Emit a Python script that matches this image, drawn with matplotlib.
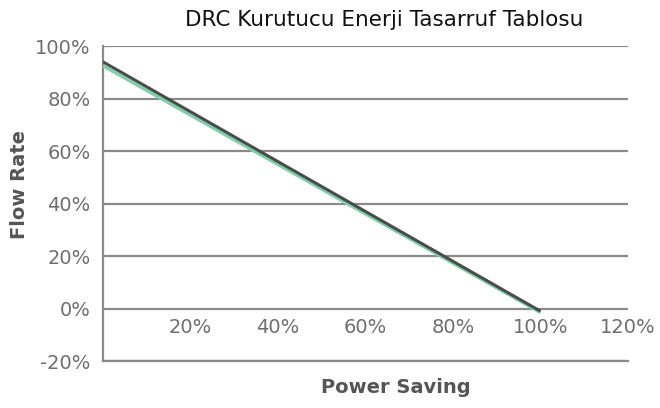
import matplotlib
matplotlib.use("Agg")
import matplotlib.pyplot as plt

# values
power_saving = [0, 100]
flow_dark = [94, -1]
flow_green = [92.5, -1.5]

x_ticks = [20, 40, 60, 80, 100, 120]
x_tick_labels = ["20%", "40%", "60%", "80%", "100%", "120%"]
y_ticks = [-20, 0, 20, 40, 60, 80, 100]
y_tick_labels = ["-20%", "0%", "20%", "40%", "60%", "80%", "100%"]

title = "DRC Kurutucu Enerji Tasarruf Tablosu"
grid_color = "#8a8a8a"
tick_color = "#6e6e6e"
label_color = "#555555"


def main():
    fig = plt.figure(figsize=(6.6, 4.08), dpi=100)
    ax = fig.add_axes([0.156, 0.115, 0.7955, 0.772])

    ax.plot(power_saving, flow_green, color="#7fcfac", linewidth=2.4,
            solid_capstyle="butt", zorder=3)
    ax.plot(power_saving, flow_dark, color="#4b4b4b", linewidth=2.2,
            solid_capstyle="butt", zorder=4)

    ax.set_xlim(0, 120)
    ax.set_ylim(y_ticks[0], y_ticks[-1])

    ax.set_yticks(y_ticks)
    ax.set_yticklabels(y_tick_labels)
    ax.set_xticks([])

    ax.yaxis.grid(True, color=grid_color, linewidth=1.6)
    ax.set_axisbelow(True)

    for s in ["top", "right"]:
        ax.spines[s].set_visible(False)
    for s in ["left", "bottom"]:
        ax.spines[s].set_color(grid_color)
        ax.spines[s].set_linewidth(1.6)

    # x labels sit under the 0% line, not under the bottom line
    y0, y1 = ax.get_ylim()
    sec = ax.secondary_xaxis((0 - y0) / (y1 - y0))
    sec.set_xticks(x_ticks)
    sec.set_xticklabels(x_tick_labels)
    sec.spines["bottom"].set_visible(False)
    sec.tick_params(length=0, pad=7, labelsize=14, labelcolor=tick_color)

    ax.tick_params(axis="y", length=0, pad=9, labelsize=14, labelcolor=tick_color)

    fig.text(0.582, 0.952, title, ha="center", va="center", fontsize=15.5,
             color="#111111")
    fig.text(0.6, 0.05, "Power Saving", ha="center", va="center", fontsize=14,
             fontweight="bold", color=label_color)
    fig.text(0.03, 0.548, "Flow Rate", ha="center", va="center", fontsize=14,
             fontweight="bold", color=label_color, rotation=90)

    fig.savefig("out.png", dpi=100, facecolor="white")


if __name__ == '__main__':
    main()
